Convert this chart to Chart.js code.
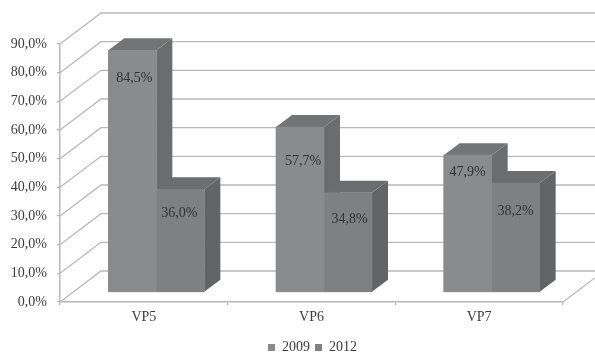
<!DOCTYPE html>
<html>
<head>
<meta charset="utf-8">
<script src="https://cdn.jsdelivr.net/npm/chart.js@4/dist/chart.umd.min.js"></script>
<style>
  html, body { margin: 0; padding: 0; background: #fff; }
  canvas { display: block; }
</style>
</head>
<body>
<canvas id="chart" width="595" height="354"></canvas>
<script>
// ── Data ───────────────────────────────────────────────────────
const categories = ['VP5', 'VP6', 'VP7'];
const values2009 = [84.5, 57.7, 47.9];
const values2012 = [36.0, 34.8, 38.2];
const yTickLabels = ['0,0%', '10,0%', '20,0%', '30,0%', '40,0%', '50,0%', '60,0%', '70,0%', '80,0%', '90,0%'];

// ── Look ───────────────────────────────────────────────────────
const FONT = '"Liberation Serif", "Times New Roman", serif';
const TEXT = '#3c3c3c';
const GRID = '#b9b9b9';
const WALL = { dx: 41, dy: -31 };     // back wall offset from the axis plane
const BAR_SHIFT = { x: 12.5, y: -9.5 }; // bars stand inside the floor
const BAR_DEPTH = { dx: 16, dy: -12 };
const LEGEND_SHIFT = { x: 31, y: 10.5 };
const SERIES_FACES = [
  { front: '#8a8b8d', side: '#6b6c6e', top: '#737476' },
  { front: '#7f8082', side: '#636466', top: '#6c6d6f' },
];
// value label drop below each bar's top edge, and sideways nudge
const LABEL_DROP = [[28, 34.5, 17], [24, 27, 28.5]];
const LABEL_NUDGE = [[2, 3, 0], [-1, 1.5, 0]];

// ── Back wall, floor and side lines ────────────────────────────
const wallPlugin = {
  id: 'wall',
  beforeDatasetsDraw(chart) {
    const { ctx, chartArea, scales: { y } } = chart;
    ctx.save();
    ctx.strokeStyle = GRID;
    ctx.lineWidth = 1.3;
    yTickLabels.forEach((_, i) => {
      const py = y.getPixelForValue(i * 10);
      ctx.beginPath();
      ctx.moveTo(chartArea.left, py);
      ctx.lineTo(chartArea.left + WALL.dx, py + WALL.dy);
      ctx.lineTo(chartArea.right + WALL.dx, py + WALL.dy);
      ctx.stroke();
    });
    // floor edge on the right
    ctx.beginPath();
    ctx.moveTo(chartArea.right, chartArea.bottom);
    ctx.lineTo(chartArea.right + WALL.dx, chartArea.bottom + WALL.dy);
    ctx.stroke();
    ctx.restore();
  },
};

// ── Legend sits lower and further right than the default slot ──
const legendShiftPlugin = {
  id: 'legendShift',
  afterLayout(chart) {
    const lg = chart.legend;
    lg.left += LEGEND_SHIFT.x;
    lg.right += LEGEND_SHIFT.x;
    lg.top += LEGEND_SHIFT.y;
    lg.bottom += LEGEND_SHIFT.y;
  },
};

// ── Bar side and top faces; front faces are the chart's own bars ─
const depthPlugin = {
  id: 'depth',
  beforeDatasetsDraw(chart) {
    const { ctx } = chart;
    ctx.save();
    ctx.translate(BAR_SHIFT.x, BAR_SHIFT.y);
    const face = (color, pts) => {
      ctx.fillStyle = color;
      ctx.beginPath();
      pts.forEach(([x, y], i) => (i ? ctx.lineTo(x, y) : ctx.moveTo(x, y)));
      ctx.closePath();
      ctx.fill();
    };
    categories.forEach((_, c) => {
      chart.data.datasets.forEach((ds, s) => {
        const bar = chart.getDatasetMeta(s).data[c];
        const l = bar.x - bar.width / 2, r = bar.x + bar.width / 2;
        const { dx, dy } = BAR_DEPTH;
        face(SERIES_FACES[s].side, [[r, bar.y], [r + dx, bar.y + dy], [r + dx, bar.base + dy], [r, bar.base]]);
        face(SERIES_FACES[s].top, [[l, bar.y], [l + dx, bar.y + dy], [r + dx, bar.y + dy], [r, bar.y]]);
      });
    });
    ctx.restore();
    // the native bars get the same shift while they are drawn
    ctx.save();
    ctx.translate(BAR_SHIFT.x, BAR_SHIFT.y);
  },
  afterDatasetsDraw(chart) {
    const { ctx } = chart;
    ctx.restore();
    ctx.save();
    ctx.font = `14px ${FONT}`;
    ctx.fillStyle = '#333';
    ctx.textAlign = 'center';
    ctx.textBaseline = 'middle';
    chart.data.datasets.forEach((ds, s) => {
      chart.getDatasetMeta(s).data.forEach((bar, c) => {
        const text = ds.data[c].toFixed(1).replace('.', ',') + '%';
        ctx.fillText(text, bar.x + BAR_SHIFT.x + LABEL_NUDGE[s][c], bar.y + BAR_SHIFT.y + LABEL_DROP[s][c]);
      });
    });
    ctx.restore();
  },
};

// ── Chart ──────────────────────────────────────────────────────
new Chart(document.getElementById('chart'), {
  type: 'bar',
  data: {
    labels: categories,
    datasets: [
      { label: '2009', data: values2009, backgroundColor: SERIES_FACES[0].front, barThickness: 48 },
      { label: '2012', data: values2012, backgroundColor: SERIES_FACES[1].front, barThickness: 48 },
    ],
  },
  plugins: [wallPlugin, depthPlugin, legendShiftPlugin],
  options: {
    responsive: false,
    animation: false,
    layout: { padding: { top: 44, right: 32, left: 0, bottom: 0 } },
    plugins: {
      tooltip: { enabled: false },
      legend: {
        position: 'bottom',
        labels: {
          boxWidth: 7,
          boxHeight: 7,
          padding: 5,
          color: TEXT,
          font: { family: FONT, size: 14 },
        },
      },
    },
    scales: {
      x: {
        afterFit: scale => { scale.height = 23; },
        grid: { drawOnChartArea: false, color: GRID, tickLength: 3, lineWidth: 1.3 },
        border: { color: GRID, width: 1.5 },
        ticks: { color: TEXT, font: { family: FONT, size: 14 }, padding: 4, maxRotation: 0 },
      },
      y: {
        min: 0,
        max: 90,
        afterFit: scale => { scale.width = 60; },
        grid: { drawOnChartArea: false, color: GRID, tickLength: 3, lineWidth: 1.3 },
        border: { color: GRID, width: 1.5 },
        ticks: {
          stepSize: 10,
          color: TEXT,
          padding: 10,
          font: { family: FONT, size: 14 },
          callback: (v, i) => yTickLabels[i],
        },
      },
    },
  },
});
</script>
</body>
</html>
